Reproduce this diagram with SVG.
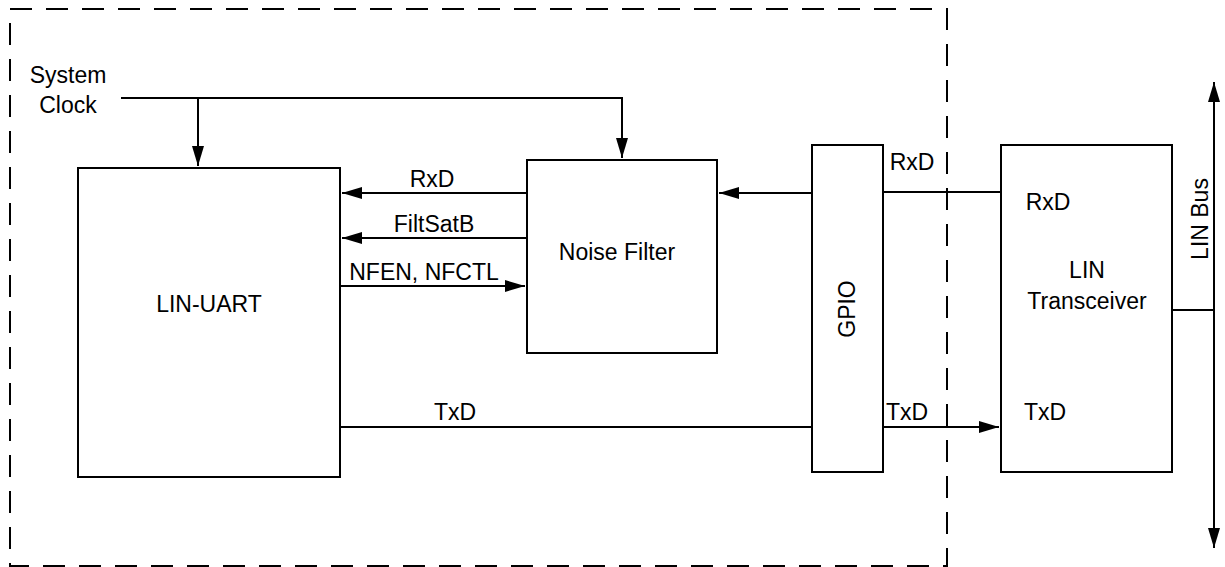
<svg xmlns="http://www.w3.org/2000/svg" width="1225" height="567" viewBox="0 0 1225 567">
<style>
.b{fill:#fff;stroke:#000;stroke-width:2}
.l{fill:none;stroke:#000;stroke-width:2}
.d{fill:none;stroke:#000;stroke-width:2;stroke-dasharray:22 14}
text{font-family:"Liberation Sans",Arial,sans-serif;font-size:23px;fill:#000}
.m{text-anchor:middle}
</style>
<defs>
<marker id="a" markerUnits="userSpaceOnUse" markerWidth="20" markerHeight="12" refX="20" refY="6" orient="auto">
<path d="M0,0 L20,6 L0,12 Z" fill="#000"/>
</marker>
</defs>
<rect class="d" x="10" y="9" width="937" height="557"/>
<g id="connectors">
<path class="l" d="M121,98 H622 V158" marker-end="url(#a)"/>
<path class="l" d="M198,98 V166" marker-end="url(#a)"/>
<path class="l" d="M527,193 H342" marker-end="url(#a)"/>
<path class="l" d="M527,238 H342" marker-end="url(#a)"/>
<path class="l" d="M340,286 H525" marker-end="url(#a)"/>
<path class="l" d="M812,193 H719" marker-end="url(#a)"/>
<path class="l" d="M1001,192 H883"/>
<path class="l" d="M340,427 H812"/>
<path class="l" d="M883,427 H999" marker-end="url(#a)"/>
<path class="l" d="M1172,310 H1214"/>
<path class="l" d="M1214,310 V82" marker-end="url(#a)"/>
<path class="l" d="M1214,310 V548" marker-end="url(#a)"/>
</g>
<g id="clock"><text class="m" x="68" y="83">System</text><text class="m" x="68" y="113">Clock</text></g>
<g id="uart"><rect class="b" x="78" y="168" width="262" height="309"/><text class="m" x="209" y="312">LIN-UART</text></g>
<g id="filter"><rect class="b" x="527" y="160" width="190" height="193"/><text class="m" x="617" y="260">Noise Filter</text></g>
<g id="gpio"><rect class="b" x="812" y="145" width="71" height="327"/><text class="m" transform="translate(855,309) rotate(-90)">GPIO</text></g>
<g id="xcvr"><rect class="b" x="1001" y="145" width="171" height="327"/><text class="m" x="1087" y="278">LIN</text><text class="m" x="1087" y="309">Transceiver</text><text class="m" x="1048" y="210">RxD</text><text class="m" x="1045" y="420">TxD</text></g>
<g id="bus"><text class="m" transform="translate(1208,219) rotate(-90)">LIN Bus</text></g>
<g id="labels">
<text class="m" x="432" y="187">RxD</text>
<text class="m" x="434" y="232">FiltSatB</text>
<text class="m" x="424" y="280">NFEN, NFCTL</text>
<text class="m" x="912" y="170">RxD</text>
<text class="m" x="907" y="420">TxD</text>
<text class="m" x="455" y="420">TxD</text>
</g>
</svg>
